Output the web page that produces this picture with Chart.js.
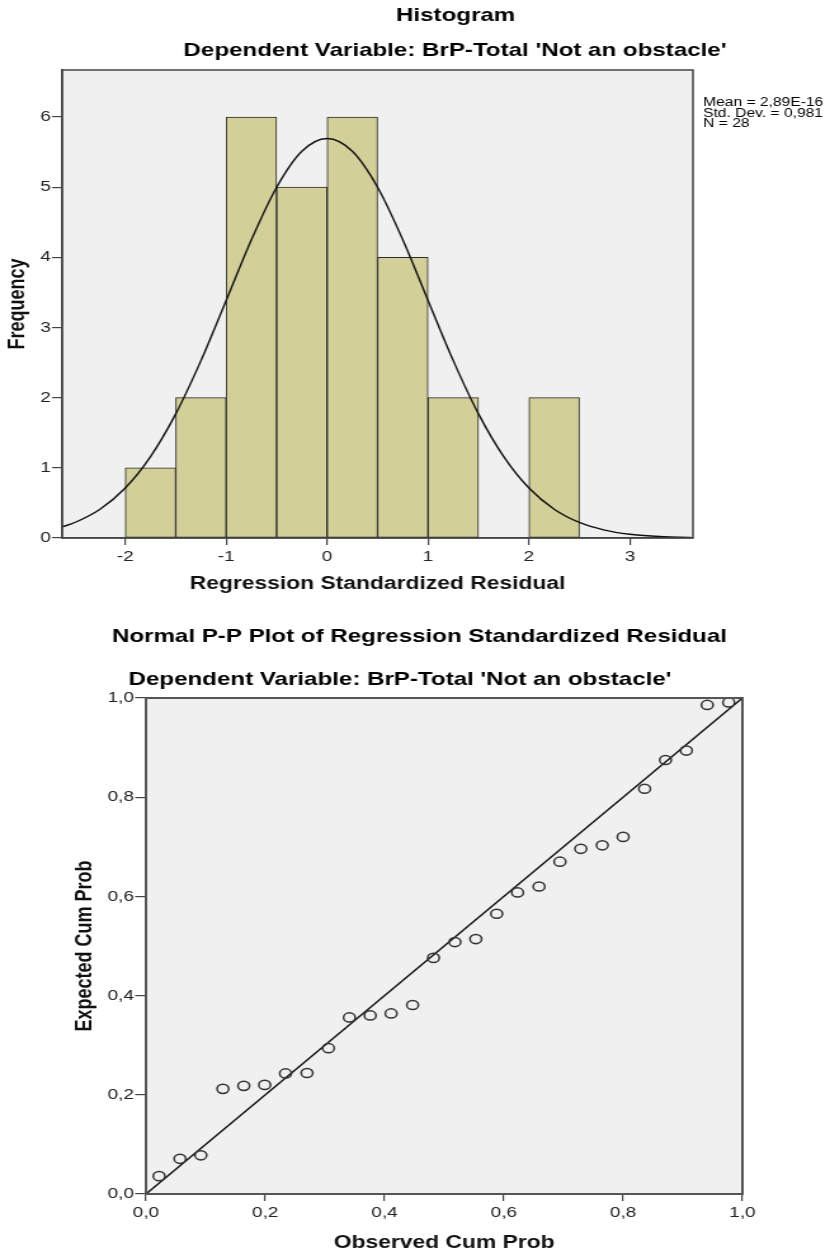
<!DOCTYPE html>
<html><head><meta charset="utf-8">
<script src="https://cdn.jsdelivr.net/npm/chart.js@4/dist/chart.umd.min.js"></script>
<style>
html,body{margin:0;padding:0;background:#fff;}
#wrap{position:relative;width:830px;height:1254px;overflow:hidden;background:#fff;}
canvas{position:absolute;left:0;}
</style></head><body>
<div id="wrap">
<canvas id="c1" width="654" height="610" style="top:0px;width:830px;height:610px;"></canvas>
<canvas id="c2" width="654" height="644" style="top:610px;width:830px;height:644px;"></canvas>
</div>
<script>
// ---------- Histogram data ----------
const BIN_CENTERS = [-1.75, -1.25, -0.75, -0.25, 0.25, 0.75, 1.25, 2.25];
const BIN_COUNTS  = [1, 2, 6, 5, 6, 4, 2, 2];
// normal curve heights read along the x axis
const CURVE_X = [-2.625, -2.5, -2.25, -2, -1.75, -1.5, -1.25, -1, -0.75, -0.5, -0.25, 0, 0.25, 0.5, 0.75, 1, 1.25, 1.5, 1.75, 2, 2.25, 2.5, 2.75, 3, 3.25, 3.5, 3.625];
const CURVE_Y = [0.159, 0.221, 0.410, 0.712, 1.160, 1.769, 2.528, 3.386, 4.251, 5.000, 5.512, 5.694, 5.512, 5.000, 4.251, 3.386, 2.528, 1.769, 1.160, 0.712, 0.410, 0.221, 0.112, 0.053, 0.024, 0.010, 0.006];
const HIST_X_TICKS = [-2, -1, 0, 1, 2, 3];
const HIST_Y_TICKS = [0, 1, 2, 3, 4, 5, 6];
const STATS = ['Mean = 2,89E-16', 'Std. Dev. = 0,981', 'N = 28'];

// ---------- P-P plot data ----------
const OBS_CUM = [0.022, 0.057, 0.092, 0.129, 0.164, 0.199, 0.234, 0.270, 0.306, 0.341, 0.376, 0.411, 0.447, 0.482, 0.518, 0.553, 0.588, 0.623, 0.659, 0.694, 0.729, 0.765, 0.800, 0.836, 0.871, 0.906, 0.941, 0.977];
const EXP_CUM = [0.036, 0.071, 0.078, 0.212, 0.218, 0.220, 0.243, 0.244, 0.294, 0.356, 0.360, 0.364, 0.381, 0.476, 0.508, 0.514, 0.565, 0.608, 0.620, 0.670, 0.696, 0.703, 0.720, 0.817, 0.875, 0.894, 0.986, 0.991];
const REF_LINE = [{x: 0, y: 0}, {x: 1, y: 1}];

const FONT = "'Liberation Sans', Arial, Helvetica, sans-serif";
const comma = v => Number(v).toFixed(1).replace('.', ',');

const framePlugin = {
  id: 'frame',
  beforeDraw(chart, args, o) {
    const {ctx, chartArea: a} = chart;
    ctx.save();
    ctx.fillStyle = o.bg;
    ctx.fillRect(a.left, a.top, a.right - a.left, a.bottom - a.top);
    ctx.restore();
  },
  afterDraw(chart, args, o) {
    const {ctx, chartArea: a} = chart;
    ctx.save();
    ctx.strokeStyle = o.color;
    ctx.lineWidth = o.width;
    ctx.strokeRect(a.left, a.top, a.right - a.left, a.bottom - a.top);
    ctx.restore();
  }
};
const textPlugin = {
  id: 'texts',
  afterDraw(chart, args, o) {
    const ctx = chart.ctx;
    ctx.save();
    ctx.fillStyle = '#000';
    for (const t of o.items) {
      ctx.font = t.font;
      ctx.textAlign = t.align || 'center';
      ctx.textBaseline = 'middle';
      ctx.fillText(t.text, t.x, t.y);
    }
    ctx.restore();
  }
};

// ---------- Histogram ----------
new Chart(document.getElementById('c1'), {
  type: 'bar',
  data: {
    datasets: [
      {
        type: 'line',
        data: CURVE_X.map((x, i) => ({x, y: CURVE_Y[i]})),
        borderColor: '#111',
        borderWidth: 1.4,
        pointRadius: 0,
        cubicInterpolationMode: 'monotone',
        fill: false,
        order: 0
      },
      {
        type: 'bar',
        data: BIN_CENTERS.map((x, i) => ({x, y: BIN_COUNTS[i]})),
        backgroundColor: '#D3CF98',
        borderColor: '#2a2a2a',
        borderWidth: 1,
        borderSkipped: false,
        barPercentage: 1,
        categoryPercentage: 1,
        grouped: false,
        order: 1
      }
    ]
  },
  options: {
    responsive: false,
    animation: false,
    devicePixelRatio: 1,
    layout: {padding: {left: 0, right: 108, top: 70, bottom: 0}},
    plugins: {
      legend: {display: false},
      tooltip: {enabled: false},
      frame: {bg: '#F0F0F0', color: '#444', width: 1.5},
      texts: {items: [
        {text: 'Histogram', x: 359, y: 16, font: 'bold 19px ' + FONT},
        {text: "Dependent Variable: BrP-Total 'Not an obstacle'", x: 358.5, y: 51, font: 'bold 19px ' + FONT},
        {text: STATS[0], x: 554, y: 102.5, font: '12.3px ' + FONT, align: 'left'},
        {text: STATS[1], x: 554, y: 113.3, font: '12.3px ' + FONT, align: 'left'},
        {text: STATS[2], x: 554, y: 124.1, font: '12.3px ' + FONT, align: 'left'}
      ]}
    },
    scales: {
      x: {
        type: 'linear',
        offset: false,
        min: -2.625, max: 3.625,
        afterFit: s => { s.height = 72; },
        afterBuildTicks: s => { s.ticks = HIST_X_TICKS.map(v => ({value: v})); },
        ticks: {color: '#222', font: {family: FONT, size: 15}, padding: 3, callback: v => String(v), maxRotation: 0, autoSkip: false},
        grid: {display: true, offset: false, drawOnChartArea: false, drawTicks: true, tickLength: 7, color: '#444', lineWidth: 1.2},
        border: {display: true, color: '#444', width: 1.5},
        title: {display: true, text: 'Regression Standardized Residual', color: '#111', font: {family: FONT, size: 18, weight: 'bold'}, padding: {top: 0, bottom: 15}}
      },
      y: {
        type: 'linear',
        min: 0, max: 6.67,
        afterFit: s => { s.width = 49; },
        afterBuildTicks: s => { s.ticks = HIST_Y_TICKS.map(v => ({value: v})); },
        ticks: {color: '#222', font: {family: FONT, size: 15}, padding: 1, callback: v => String(v), autoSkip: false},
        grid: {display: true, drawOnChartArea: false, drawTicks: true, tickLength: 8, color: '#444', lineWidth: 1.2},
        border: {display: true, color: '#444', width: 1.5},
        title: {display: true, text: 'Frequency', color: '#111', font: {family: FONT, size: 18, weight: 'bold'}, padding: {top: 3.5, bottom: 0}}
      }
    }
  },
  plugins: [framePlugin, textPlugin]
});

// ---------- P-P plot ----------
new Chart(document.getElementById('c2'), {
  type: 'scatter',
  data: {
    datasets: [
      {
        type: 'line',
        data: REF_LINE,
        borderColor: '#111',
        borderWidth: 1.5,
        pointRadius: 0,
        fill: false,
        order: 1
      },
      {
        type: 'scatter',
        data: OBS_CUM.map((x, i) => ({x, y: EXP_CUM[i]})),
        pointStyle: 'circle',
        pointRadius: 4.6,
        borderColor: '#333',
        borderWidth: 1.5,
        backgroundColor: 'rgba(0,0,0,0)',
        clip: false,
        order: 0
      }
    ]
  },
  options: {
    responsive: false,
    animation: false,
    devicePixelRatio: 1,
    layout: {padding: {left: 0, right: 69, top: 88, bottom: 0}},
    plugins: {
      legend: {display: false},
      tooltip: {enabled: false},
      frame: {bg: '#F0F0F0', color: '#555', width: 2},
      texts: {items: [
        {text: 'Normal P-P Plot of Regression Standardized Residual', x: 330.5, y: 27, font: 'bold 19px ' + FONT},
        {text: "Dependent Variable: BrP-Total 'Not an obstacle'", x: 315.2, y: 70, font: 'bold 19px ' + FONT}
      ]}
    },
    scales: {
      x: {
        type: 'linear',
        min: 0, max: 1,
        afterFit: s => { s.height = 60; },
        ticks: {stepSize: 0.2, color: '#222', font: {family: FONT, size: 15}, padding: 3, callback: comma, maxRotation: 0, autoSkip: false},
        grid: {display: true, drawOnChartArea: false, drawTicks: true, tickLength: 7, color: '#444', lineWidth: 1.2},
        border: {display: true, color: '#555', width: 2},
        title: {display: true, text: 'Observed Cum Prob', color: '#111', font: {family: FONT, size: 18, weight: 'bold'}, padding: {top: 0, bottom: 0}}
      },
      y: {
        type: 'linear',
        min: 0, max: 1,
        afterFit: s => { s.width = 115; },
        ticks: {stepSize: 0.2, color: '#222', font: {family: FONT, size: 15}, padding: 1, callback: comma, autoSkip: false},
        grid: {display: true, drawOnChartArea: false, drawTicks: true, tickLength: 8.5, color: '#444', lineWidth: 1.2},
        border: {display: true, color: '#555', width: 2},
        title: {display: true, text: 'Expected Cum Prob', color: '#111', font: {family: FONT, size: 18, weight: 'bold'}, padding: {top: 56, bottom: 0}}
      }
    }
  },
  plugins: [framePlugin, textPlugin]
});
</script>
</body></html>
